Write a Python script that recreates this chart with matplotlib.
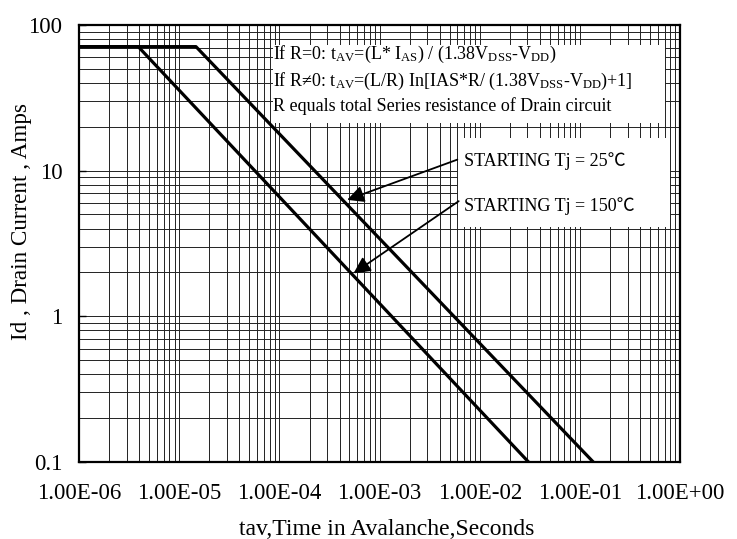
import matplotlib
matplotlib.use('Agg')
import matplotlib.pyplot as plt
from matplotlib.patches import Rectangle
from matplotlib.ticker import FixedLocator, LogLocator, NullFormatter

plt.rcParams['font.family'] = ['Liberation Serif', 'Noto Sans CJK SC']
plt.rcParams['mathtext.fontset'] = 'custom'
plt.rcParams['mathtext.rm'] = 'Liberation Serif'
plt.rcParams['mathtext.it'] = 'Liberation Serif:italic'
plt.rcParams['mathtext.default'] = 'rm'

# curves (time in s, current in A)
t_25 = [1e-6, 1.47e-5, 0.136]
id_25 = [71, 71, 0.1]
t_150 = [1e-6, 3.9e-6, 0.0307]
id_150 = [71, 71, 0.1]

x_ticks = [1e-6, 1e-5, 1e-4, 1e-3, 1e-2, 1e-1, 1e0]
x_labels = ['1.00E-06', '1.00E-05', '1.00E-04', '1.00E-03', '1.00E-02', '1.00E-01', '1.00E+00']
y_ticks = [0.1, 1, 10, 100]
y_labels = ['0.1', '1', '10', '100']

fig = plt.figure(figsize=(7.37, 5.39), dpi=100)
ax = fig.add_axes([0.1072, 0.1429, 0.8155, 0.8108])
ax.set_xscale('log')
ax.set_yscale('log')
ax.set_xlim(1e-6, 1)
ax.set_ylim(0.1, 100)

ax.xaxis.set_major_locator(FixedLocator(x_ticks))
ax.set_xticklabels(x_labels)
ax.yaxis.set_major_locator(FixedLocator(y_ticks))
ax.set_yticklabels(y_labels)
ax.xaxis.set_minor_locator(LogLocator(base=10, subs=range(2, 10)))
ax.yaxis.set_minor_locator(LogLocator(base=10, subs=range(2, 10)))
ax.xaxis.set_minor_formatter(NullFormatter())
ax.yaxis.set_minor_formatter(NullFormatter())
ax.tick_params(which='major', direction='in', length=5, labelsize=16.5, width=1)
ax.tick_params(axis='x', which='major', pad=15, length=0)
ax.tick_params(axis='y', which='major', pad=12)
ax.tick_params(which='minor', length=0)

ax.grid(True, which='both', color='#222222', linewidth=0.7)
ax.set_axisbelow(True)
for s in ax.spines.values():
    s.set_linewidth(1.6)

# white boxes behind the notes
ax.add_patch(Rectangle((0.323, 0.776), 0.652, 0.178, transform=ax.transAxes,
                       facecolor='white', edgecolor='none', zorder=1.5))
ax.add_patch(Rectangle((0.631, 0.538), 0.352, 0.203, transform=ax.transAxes,
                       facecolor='white', edgecolor='none', zorder=1.5))

ax.plot(t_25, id_25, color='black', lw=2.3, zorder=3)
ax.plot(t_150, id_150, color='black', lw=2.3, zorder=3)

ax.text(8.7e-5, 62.3, 'If R=0: t$_{AV}$=(L* I$_{AS}$) / (1.38V$_{DSS}$-V$_{DD}$)',
        fontsize=13, va='center', ha='left', zorder=4)
ax.text(8.7e-5, 40.9, 'If R\u22600: t$_{AV}$=(L/R) In[IAS*R/ (1.38V$_{DSS}$-V$_{DD}$)+1]',
        fontsize=13, va='center', ha='left', zorder=4)
ax.text(8.7e-5, 27.6, 'R equals total Series resistance of Drain circuit',
        fontsize=13, va='center', ha='left', zorder=4)

ax.text(6.9e-3, 11.6, 'STARTING Tj = 25\u2103', fontsize=13, va='center', ha='left', zorder=4)
ax.text(6.9e-3, 5.7, 'STARTING Tj = 150\u2103', fontsize=13, va='center', ha='left', zorder=4)

arrow = dict(arrowstyle='-|>', color='black', lw=1.3, mutation_scale=25,
             shrinkA=0, shrinkB=0)
ax.annotate('', xy=(4.75e-4, 6.3), xytext=(5.98e-3, 11.9), arrowprops=arrow, zorder=4)
ax.annotate('', xy=(5.5e-4, 1.97), xytext=(6.17e-3, 6.17), arrowprops=arrow, zorder=4)

ax.set_xlabel('tav,Time in Avalanche,Seconds', fontsize=17)
ax.set_ylabel('Id , Drain Current , Amps', fontsize=16.7)
ax.xaxis.set_label_coords(0.512, -0.131)
ax.yaxis.set_label_coords(-0.078, 0.551)

fig.savefig('out.png', dpi=100)
